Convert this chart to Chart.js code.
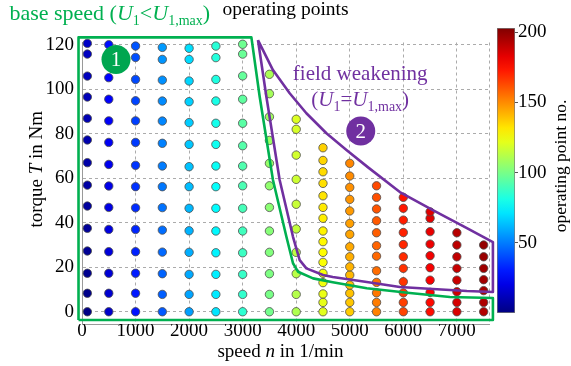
<!DOCTYPE html>
<html>
<head>
<meta charset="utf-8">
<script src="https://cdn.jsdelivr.net/npm/chart.js@4.4.1/dist/chart.umd.min.js"></script>
<style>
  body { margin: 0; background: #fff; }
  #wrap { position: relative; width: 571px; height: 366px; }
  #opChart { position: absolute; left: 0; top: 0; }
  #cbarChart { position: absolute; left: 490px; top: 0; }
</style>
</head>
<body>
<div id="wrap">
  <canvas id="opChart" width="571" height="366"></canvas>
  <canvas id="cbarChart" width="81" height="366"></canvas>
</div>
<script>
// speed columns (1/min) and measured torque per column (Nm), bottom to top
const speeds = [100, 500, 1000, 1500, 2000, 2500, 3000, 3500, 4000, 4500, 5000, 5500, 6000, 6500, 7000, 7500];
const t100  = [0, 8.3, 17.3, 27.3, 37.5, 47.5, 56.9, 67, 77.2, 86.9, 96.5, 105.9, 115.8, 120.6];
const t500  = [0, 8.3, 17.3, 27, 37, 46.9, 56.5, 66.2, 76.1, 85.8, 95.5, 105.2, 115.5, 120];
const t1000 = [0, 8.3, 17.3, 27, 37, 46.7, 56.2, 65.8, 76.1, 85.8, 94.8, 104.4, 114.3, 119.4];
const t1500 = [0, 7.8, 17.1, 26.8, 36.7, 46.8, 56.2, 65.5, 75.7, 85.7, 94.7, 104.1, 113.4, 118.8];
const t2000 = [0, 7.8, 16.8, 26.7, 36.4, 46.5, 56.2, 65.2, 75.2, 85, 94.4, 103.7, 113.4, 118.4];
const t2500 = [0, 7.8, 16.8, 26.5, 36.3, 46.5, 56.2, 65.5, 75.2, 84.7, 94.7, 104.4, 114.2, 119.4];
const t3000 = [0, 7.8, 16.8, 26.5, 36.3, 46.5, 56.6, 65.5, 74.6, 84.7, 95.5, 106, 115.8, 120.2];
const t3500 = [0, 7.8, 17.1, 26.7, 36.3, 46.9, 56.6, 66.7, 77, 87.6, 98, 106.7];
const t4000 = [0, 7.8, 17.1, 26.7, 37.2, 48.3, 59.5, 70.4, 82, 86.5];
const t4500 = [0, 4.2, 8, 13.1, 17.3, 22.2, 26.7, 31.5, 36.3, 42, 46.9, 52.1, 57.7, 62.9, 68, 73.7];
const t5000 = [0, 4.2, 8.3, 12, 16.5, 20.2, 24.7, 29.2, 34.8, 39.7, 45.3, 50.5, 55.9, 61, 66.7];
const t5500 = [0, 4.2, 8.5, 13.2, 18.4, 25, 29.7, 35.5, 40.9, 46.2, 51.4, 56.6];
const t6000 = [0, 4.2, 8.5, 13.5, 19.5, 24.7, 30.2, 35.6, 41.2, 46.5, 51.4];
const t6500 = [0, 4.2, 8.7, 14.2, 19.8, 25.2, 30.4, 36, 42, 44.9];
const t7000 = [0, 4.2, 9, 14.2, 19.5, 24.7, 30, 35.5];
const t7500 = [0, 4.2, 9.5, 14.4, 19.5, 24.7, 30];
const torqueColumns = [t100, t500, t1000, t1500, t2000, t2500, t3000, t3500, t4000, t4500, t5000, t5500, t6000, t6500, t7000, t7500];

// region outlines (speed, torque)
const baseSpeedN = [-65, -65, 3163, 3318, 3566, 3817, 3940, 4033, 4314, 4682, 5318, 6121, 6869, 7673, 7673, -65];
const baseSpeedT = [-3.7, 123.3, 123.3, 96.6, 59.2, 33.7, 21.8, 18.0, 15.0, 13.3, 10.6, 8.4, 6.6, 6.2, -3.7, -3.7];
const fieldWeakN = [3286, 3443, 3691, 3940, 4065, 4190, 4501, 4682, 5318, 5935, 6551, 7187, 7673, 7673, 7187, 6551, 5935, 5336, 4938, 4564, 4190, 3878, 3566, 3286];
const fieldWeakT = [122.1, 96.6, 59.2, 33.7, 23.2, 19.5, 16.5, 15.6, 13.4, 11.1, 10.2, 9.3, 8.9, 31.3, 37.6, 45.7, 53.8, 65, 72.7, 80.2, 89.2, 98.2, 108.6, 122.1];

const xTicks = [0, 1000, 2000, 3000, 4000, 5000, 6000, 7000];
const yTicks = [0, 20, 40, 60, 80, 100, 120];
const cbTicks = [50, 100, 150, 200];
const cMin = 0, cMax = 203;

const GREEN = '#00b050';
const PURPLE = '#7030a0';
const SERIF = "'Liberation Serif', 'Times New Roman', serif";

function jet(v) {
    const t = (v - cMin) / (cMax - cMin);
    const ch = k => Math.round(255 * Math.min(1, Math.max(0, 1.5 - Math.abs(4 * t - k))));
    return 'rgb(' + ch(3) + ',' + ch(2) + ',' + ch(1) + ')';
}

const points = [];
let no = 0;
speeds.forEach((n, i) => {
    torqueColumns[i].forEach(t => {
        no++;
        points.push({ x: n, y: t, no: no });
    });
});
const pointColors = points.map(p => jet(p.no));
const basePoly = baseSpeedN.map((n, i) => ({ x: n, y: baseSpeedT[i] }));
const fieldPoly = fieldWeakN.map((n, i) => ({ x: n, y: fieldWeakT[i] }));

// draw a sequence of text runs (mixed fonts, sub/superscript offsets)
function drawRuns(ctx, runs, x, y, align) {
    let w = 0;
    runs.forEach(r => { ctx.font = r.f; w += ctx.measureText(r.t).width; });
    let cx = align === 'center' ? x - w / 2 : x;
    ctx.textAlign = 'left';
    ctx.textBaseline = 'alphabetic';
    runs.forEach(r => {
        ctx.font = r.f;
        ctx.fillText(r.t, cx, y + (r.dy || 0));
        cx += ctx.measureText(r.t).width;
    });
}

const reg = s => s + 'px ' + SERIF;
const ita = s => 'italic ' + s + 'px ' + SERIF;

const textPlugin = {
    id: 'texts',
    afterDraw(chart) {
        const ctx = chart.ctx;
        const xs = chart.scales.x, ys = chart.scales.y;
        const a = chart.chartArea;
        ctx.save();

        // badges
        [[3, '1'], [4, '2']].forEach(b => {
            const el = chart.getDatasetMeta(b[0]).data[0];
            ctx.fillStyle = '#fff';
            ctx.font = reg(21);
            ctx.textAlign = 'center';
            ctx.textBaseline = 'middle';
            ctx.fillText(b[1], el.x, el.y + 1);
        });

        // base speed label
        ctx.fillStyle = GREEN;
        drawRuns(ctx, [
            { t: 'base speed (', f: reg(22) },
            { t: 'U', f: ita(22) },
            { t: '1', f: reg(14), dy: 5 },
            { t: '<', f: reg(22) },
            { t: 'U', f: ita(22) },
            { t: '1,max', f: reg(14), dy: 5 },
            { t: ')', f: reg(22) }
        ], xs.getPixelForValue(-1355), ys.getPixelForValue(131.1), 'left');

        // field weakening label
        ctx.fillStyle = PURPLE;
        drawRuns(ctx, [{ t: 'field weakening', f: reg(21) }],
            xs.getPixelForValue(5195), ys.getPixelForValue(104.1), 'center');
        drawRuns(ctx, [
            { t: '(', f: reg(21) },
            { t: 'U', f: ita(21) },
            { t: '1', f: reg(14), dy: 5 },
            { t: '=', f: reg(21) },
            { t: 'U', f: ita(21) },
            { t: '1,max', f: reg(14), dy: 5 },
            { t: ')', f: reg(21) }
        ], xs.getPixelForValue(5195), ys.getPixelForValue(92.4), 'center');

        // axis titles
        ctx.fillStyle = '#000';
        drawRuns(ctx, [
            { t: 'speed ', f: reg(19) },
            { t: 'n', f: ita(19) },
            { t: ' in 1/min', f: reg(19) }
        ], (a.left + a.right) / 2 - 5, a.bottom + 32.5, 'center');

        ctx.translate(a.left - 40, (a.top + a.bottom) / 2 - 14);
        ctx.rotate(-Math.PI / 2);
        drawRuns(ctx, [
            { t: 'torque ', f: reg(19) },
            { t: 'T', f: ita(19) },
            { t: ' in Nm', f: reg(19) }
        ], 0, 0, 'center');
        ctx.restore();
    }
};

const serifTick = { family: SERIF, size: 19 };

new Chart(document.getElementById('opChart').getContext('2d'), {
    type: 'scatter',
    data: {
        datasets: [
            {
                label: 'operating points',
                data: points,
                pointRadius: 4.2,
                pointBackgroundColor: pointColors,
                pointBorderColor: '#4d4d4d',
                pointBorderWidth: 0.8,
                clip: false,
                order: 3
            },
            {
                label: 'base speed',
                data: basePoly,
                showLine: true,
                borderColor: GREEN,
                borderWidth: 2.6,
                borderJoinStyle: 'round',
                pointRadius: 0,
                fill: false,
                clip: false,
                order: 2
            },
            {
                label: 'field weakening',
                data: fieldPoly,
                showLine: true,
                borderColor: PURPLE,
                borderWidth: 2.6,
                borderJoinStyle: 'round',
                pointRadius: 0,
                fill: false,
                clip: false,
                order: 2
            },
            {
                label: 'badge 1',
                data: [{ x: 635, y: 113.4 }],
                pointRadius: 14.5,
                pointBackgroundColor: '#00a650',
                pointBorderWidth: 0,
                clip: false,
                order: 1
            },
            {
                label: 'badge 2',
                data: [{ x: 5205, y: 81.2 }],
                pointRadius: 14.5,
                pointBackgroundColor: PURPLE,
                pointBorderWidth: 0,
                clip: false,
                order: 1
            }
        ]
    },
    options: {
        responsive: false,
        animation: false,
        events: [],
        layout: { padding: { left: 0, right: 82, top: 0, bottom: 0 } },
        plugins: {
            legend: { display: false },
            tooltip: { enabled: false },
            title: {
                display: true,
                text: 'operating points',
                fullSize: false,
                color: '#000',
                font: { family: SERIF, size: 19.5, weight: 'normal', lineHeight: 1 },
                padding: { top: 0, bottom: 23 }
            }
        },
        scales: {
            x: {
                type: 'linear',
                min: 0,
                max: 7600,
                afterBuildTicks: s => { s.ticks = xTicks.concat([7600]).map(v => ({ value: v })); },
                afterFit: s => { s.height = 42; },
                ticks: {
                    color: '#000',
                    font: serifTick,
                    padding: -4,
                    maxRotation: 0,
                    callback: v => (xTicks.indexOf(v) >= 0 ? String(v) : '')
                },
                grid: { color: '#ababab', drawTicks: false },
                border: { color: '#9a9a9a', dash: [3, 3] }
            },
            y: {
                type: 'linear',
                min: -5.5,
                max: 121,
                afterBuildTicks: s => { s.ticks = yTicks.map(v => ({ value: v })); },
                afterFit: s => { s.width = 82; },
                ticks: { color: '#000', font: serifTick, padding: 8 },
                grid: { color: '#ababab', drawTicks: false },
                border: { color: '#9a9a9a', dash: [3, 3] }
            }
        }
    },
    plugins: [textPlugin]
});

// colour bar
const cbarTitle = {
    id: 'cbarTitle',
    afterDraw(chart) {
        const ctx = chart.ctx;
        ctx.save();
        ctx.fillStyle = '#000';
        ctx.translate(76, 166);
        ctx.rotate(-Math.PI / 2);
        drawRuns(ctx, [{ t: 'operating point no.', f: reg(17.5) }], 0, 0, 'center');
        ctx.restore();
    }
};

new Chart(document.getElementById('cbarChart').getContext('2d'), {
    type: 'bar',
    data: {
        labels: ['no'],
        datasets: [{
            data: [[cMin, cMax]],
            backgroundColor: c => {
                const a = c.chart.chartArea;
                if (!a) return '#888';
                const g = c.chart.ctx.createLinearGradient(0, a.bottom, 0, a.top);
                for (let i = 0; i <= 20; i++) {
                    g.addColorStop(i / 20, jet(cMin + (cMax - cMin) * i / 20));
                }
                return g;
            },
            borderColor: '#7a7a7a',
            borderWidth: 1,
            borderSkipped: false,
            barPercentage: 1,
            categoryPercentage: 1
        }]
    },
    options: {
        responsive: false,
        animation: false,
        events: [],
        layout: { padding: { left: 7, right: 0, top: 28, bottom: 53 } },
        plugins: { legend: { display: false }, tooltip: { enabled: false } },
        scales: {
            x: { display: false },
            y: {
                position: 'right',
                min: cMin,
                max: cMax,
                afterBuildTicks: s => { s.ticks = cbTicks.map(v => ({ value: v })); },
                afterFit: s => { s.width = 56; },
                ticks: { color: '#000', font: serifTick, padding: 0 },
                grid: { drawOnChartArea: false, tickLength: 3, color: '#555' },
                border: { display: false }
            }
        }
    },
    plugins: [cbarTitle]
});
</script>
</body>
</html>
